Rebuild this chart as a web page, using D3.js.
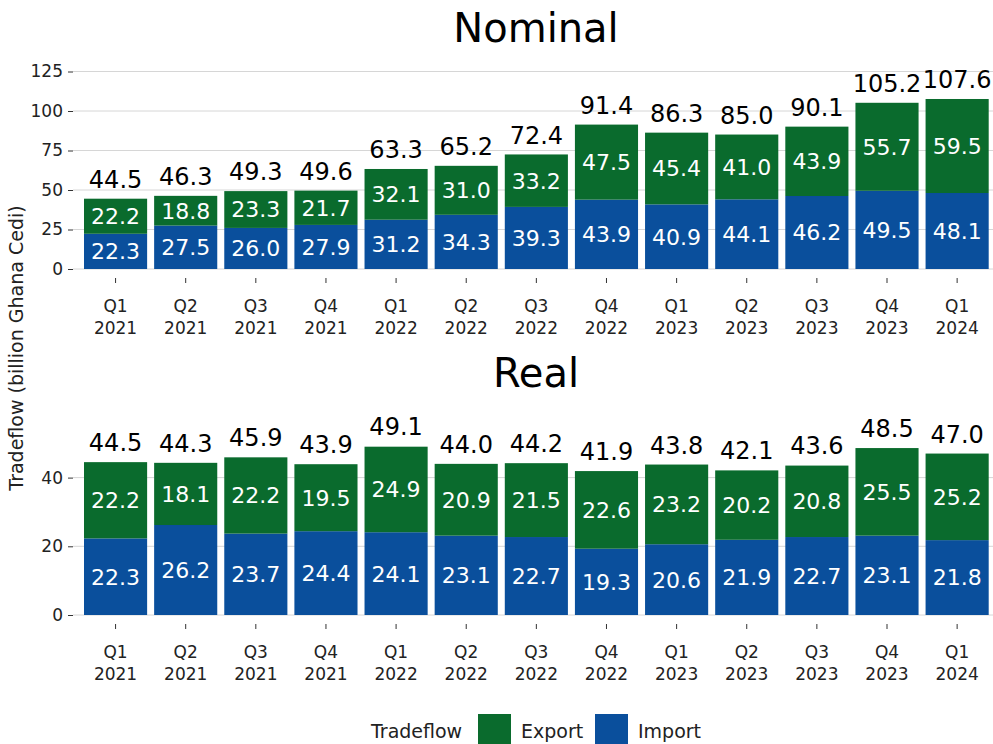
<!DOCTYPE html>
<html>
<head>
<meta charset="utf-8">
<script src="https://cdn.jsdelivr.net/npm/d3@7"></script>
<style>
  html, body { margin: 0; padding: 0; background: #fff; }
  svg { display: block; font-family: "DejaVu Sans", sans-serif; }
</style>
</head>
<body>
<svg id="chart" width="993" height="744"></svg>
<script>
// Quarterly tradeflow, billion Ghana Cedi
const quarters = ["Q1 2021","Q2 2021","Q3 2021","Q4 2021","Q1 2022","Q2 2022","Q3 2022","Q4 2022","Q1 2023","Q2 2023","Q3 2023","Q4 2023","Q1 2024"];

const nominalImport = [22.3, 27.5, 26.0, 27.9, 31.2, 34.3, 39.3, 43.9, 40.9, 44.1, 46.2, 49.5, 48.1];
const nominalExport = [22.2, 18.8, 23.3, 21.7, 32.1, 31.0, 33.2, 47.5, 45.4, 41.0, 43.9, 55.7, 59.5];
const nominalTotal  = [44.5, 46.3, 49.3, 49.6, 63.3, 65.2, 72.4, 91.4, 86.3, 85.0, 90.1, 105.2, 107.6];

const realImport = [22.3, 26.2, 23.7, 24.4, 24.1, 23.1, 22.7, 19.3, 20.6, 21.9, 22.7, 23.1, 21.8];
const realExport = [22.2, 18.1, 22.2, 19.5, 24.9, 20.9, 21.5, 22.6, 23.2, 20.2, 20.8, 25.5, 25.2];
const realTotal  = [44.5, 44.3, 45.9, 43.9, 49.1, 44.0, 44.2, 41.9, 43.8, 42.1, 43.6, 48.5, 47.0];

const nominalTicks = [0, 25, 50, 75, 100, 125];
const realTicks = [0, 20, 40];

const seriesNames = ["Export", "Import"];
const colors = { Export: "#0a6b2d", Import: "#0a4f9c" };

const svg = d3.select("#chart");
const gridLeft = 73, gridRight = 993;

const x = d3.scaleBand()
  .domain(quarters)
  .range([80.5, 992.2])
  .paddingInner(0.1)
  .paddingOuter(0.05);

function panel(title, titleY, imports, exports, totals, ticks, y) {
  const g = svg.append("g");

  g.append("text")
    .attr("x", 536).attr("y", titleY)
    .attr("text-anchor", "middle")
    .attr("font-size", 40)
    .attr("fill", "#000")
    .text(title);

  // horizontal gridlines
  g.selectAll("line.grid").data(ticks).join("line")
    .attr("class", "grid")
    .attr("x1", gridLeft).attr("x2", gridRight)
    .attr("y1", d => y(d)).attr("y2", d => y(d))
    .attr("stroke", "#d6d6d6").attr("stroke-width", 1);

  // y axis (ticks and labels only)
  const yAxis = g.append("g")
    .attr("transform", `translate(${gridLeft},0)`)
    .call(d3.axisLeft(y).tickValues(ticks).tickSize(5).tickPadding(5).tickFormat(d3.format("d")));
  yAxis.select(".domain").remove();
  yAxis.selectAll(".tick line").attr("stroke", "#333");
  yAxis.selectAll(".tick text")
    .attr("font-size", 17).attr("fill", "#222")
    .attr("font-family", "DejaVu Sans, sans-serif");

  // x axis ticks and two-line labels
  const base = y(0);
  const xAxis = g.append("g")
    .attr("transform", `translate(0,${base + 9})`)
    .call(d3.axisBottom(x).tickSize(5).tickFormat(""));
  xAxis.select(".domain").remove();
  xAxis.selectAll(".tick line").attr("stroke", "#333");

  const lab = g.selectAll("text.xlab").data(quarters).join("text")
    .attr("class", "xlab")
    .attr("text-anchor", "middle")
    .attr("font-size", 17)
    .attr("fill", "#222");
  lab.append("tspan")
    .attr("x", d => x(d) + x.bandwidth() / 2)
    .attr("y", base + 43)
    .text(d => d.split(" ")[0]);
  lab.append("tspan")
    .attr("x", d => x(d) + x.bandwidth() / 2)
    .attr("y", base + 65)
    .text(d => d.split(" ")[1]);

  const rows = quarters.map((q, i) => ({ q, imp: imports[i], exp: exports[i], total: totals[i] }));

  // stacked bars: import at the bottom, export above
  g.selectAll("rect.imp").data(rows).join("rect")
    .attr("class", "imp")
    .attr("x", d => x(d.q)).attr("width", x.bandwidth())
    .attr("y", d => y(d.imp)).attr("height", d => y(0) - y(d.imp))
    .attr("fill", colors.Import);
  g.selectAll("rect.exp").data(rows).join("rect")
    .attr("class", "exp")
    .attr("x", d => x(d.q)).attr("width", x.bandwidth())
    .attr("y", d => y(d.imp + d.exp)).attr("height", d => y(d.imp) - y(d.imp + d.exp))
    .attr("fill", colors.Export);

  const fmt = d3.format(".1f");
  g.selectAll("text.vimp").data(rows).join("text")
    .attr("class", "vimp")
    .attr("x", d => x(d.q) + x.bandwidth() / 2)
    .attr("y", d => y(d.imp / 2))
    .attr("dy", "0.36em")
    .attr("text-anchor", "middle")
    .attr("font-size", 22).attr("fill", "#fff")
    .text(d => fmt(d.imp));
  g.selectAll("text.vexp").data(rows).join("text")
    .attr("class", "vexp")
    .attr("x", d => x(d.q) + x.bandwidth() / 2)
    .attr("y", d => y(d.imp + d.exp / 2))
    .attr("dy", "0.36em")
    .attr("text-anchor", "middle")
    .attr("font-size", 22).attr("fill", "#fff")
    .text(d => fmt(d.exp));
  g.selectAll("text.vtot").data(rows).join("text")
    .attr("class", "vtot")
    .attr("x", d => x(d.q) + x.bandwidth() / 2)
    .attr("y", d => y(d.total) - 11)
    .attr("text-anchor", "middle")
    .attr("font-size", 24).attr("fill", "#000")
    .text(d => fmt(d.total));
}

const yNominal = d3.scaleLinear().domain([0, 125]).range([269, 71.5]);
const yReal = d3.scaleLinear().domain([0, 40]).range([615, 477.6]);

panel("Nominal", 42, nominalImport, nominalExport, nominalTotal, nominalTicks, yNominal);
panel("Real", 387, realImport, realExport, realTotal, realTicks, yReal);

// shared y-axis title
svg.append("text")
  .attr("transform", "translate(23,348) rotate(-90)")
  .attr("text-anchor", "middle")
  .attr("font-size", 19)
  .attr("fill", "#222")
  .text("Tradeflow (billion Ghana Cedi)");

// legend
const legend = svg.append("g");
legend.append("text")
  .attr("x", 371).attr("y", 738)
  .attr("font-size", 19).attr("fill", "#222")
  .text("Tradeflow");
const keyX = { Export: 478, Import: 595 };
seriesNames.forEach(name => {
  legend.append("rect")
    .attr("x", keyX[name]).attr("y", 714)
    .attr("width", 33).attr("height", 33)
    .attr("fill", colors[name]);
  legend.append("text")
    .attr("x", keyX[name] + 43).attr("y", 738)
    .attr("font-size", 19).attr("fill", "#222")
    .text(name);
});
</script>
</body>
</html>
